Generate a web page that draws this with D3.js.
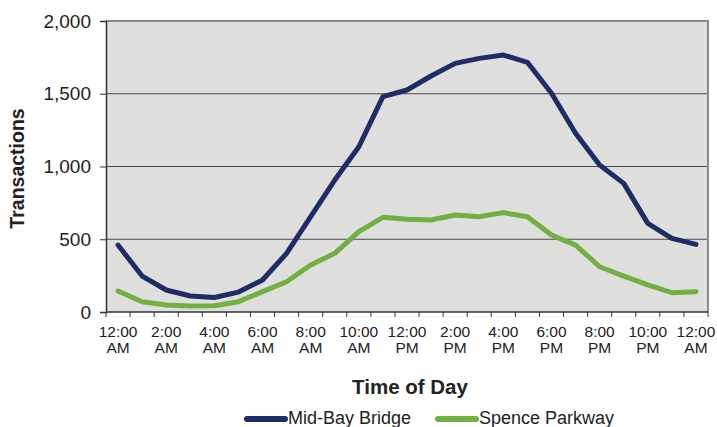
<html>
<head>
<script src="https://d3js.org/d3.v7.min.js"></script>
<style>
  body { margin: 0; background: white; }
  text { font-family: "Liberation Sans", Arial, sans-serif; fill: #222; }
</style>
</head>
<body>
<svg id="chart" width="717" height="427"></svg>
<script>
// hours of the day, 0 = midnight ... 24 = next midnight
const hours = d3.range(0, 25);
const tickLabels = [
  ["12:00", "AM"], ["2:00", "AM"], ["4:00", "AM"], ["6:00", "AM"], ["8:00", "AM"],
  ["10:00", "AM"], ["12:00", "PM"], ["2:00", "PM"], ["4:00", "PM"], ["6:00", "PM"],
  ["8:00", "PM"], ["10:00", "PM"], ["12:00", "AM"]
];
const midBay = [460, 247, 151, 110, 100, 137, 220, 403, 655, 907, 1136, 1480, 1526,
  1622, 1709, 1743, 1766, 1716, 1503, 1228, 1010, 884, 609, 506, 465];
const spence = [144, 71, 48, 41, 43, 71, 140, 208, 323, 403, 552, 651, 637,
  632, 667, 655, 683, 655, 529, 460, 311, 247, 186, 133, 140];
const yTicks = [0, 500, 1000, 1500, 2000];

const svg = d3.select("#chart");
const margin = { top: 21, right: 9, bottom: 115, left: 106 };
const width = 717 - margin.left - margin.right;
const height = 427 - margin.top - margin.bottom;
const g = svg.append("g").attr("transform", "translate(" + margin.left + "," + margin.top + ")");

const x = d3.scaleBand().domain(hours).range([0, width]);
const y = d3.scaleLinear().domain([0, 2000]).range([height, 0]);

// plot background
g.append("rect").attr("width", width).attr("height", height).attr("fill", "#dfe0de");

// gridlines
g.selectAll("line.grid").data(yTicks.slice(1, 4))
  .join("line")
  .attr("class", "grid")
  .attr("x1", 0).attr("x2", width)
  .attr("y1", d => y(d)).attr("y2", d => y(d))
  .attr("stroke", "#4a4a4a").attr("stroke-width", 1);

// top and right border
g.append("path")
  .attr("d", "M0," + y(2000) + "H" + width + "V" + height)
  .attr("fill", "none").attr("stroke", "#8a8a8a").attr("stroke-width", 2);

// y axis
const yAxis = g.append("g")
  .call(d3.axisLeft(y).tickValues(yTicks).tickFormat(d3.format(",")).tickSize(6).tickPadding(9));
yAxis.select(".domain").attr("stroke", "#333").attr("stroke-width", 1.5);
yAxis.selectAll(".tick line").attr("stroke", "#333");
yAxis.selectAll("text").style("font-size", "19px").attr("fill", "#222");

// x axis: ticks between categories
const xAxis = g.append("g").attr("transform", "translate(0," + height + ")");
xAxis.append("line").attr("x1", 0).attr("x2", width).attr("stroke", "#333").attr("stroke-width", 1.5);
xAxis.selectAll("line.tk").data(d3.range(0, 26))
  .join("line")
  .attr("class", "tk")
  .attr("x1", d => d * x.step()).attr("x2", d => d * x.step())
  .attr("y1", 0).attr("y2", 5)
  .attr("stroke", "#333");
const lab = xAxis.selectAll("text.lab").data(tickLabels)
  .join("text")
  .attr("class", "lab")
  .attr("x", (d, i) => x(i * 2) + x.bandwidth() / 2)
  .attr("text-anchor", "middle")
  .style("font-size", "15.5px");
lab.append("tspan").attr("x", (d, i) => x(i * 2) + x.bandwidth() / 2).attr("y", 24.5).text(d => d[0]);
lab.append("tspan").attr("x", (d, i) => x(i * 2) + x.bandwidth() / 2).attr("y", 41).text(d => d[1]);

// lines
const line = d3.line().x((d, i) => x(i) + x.bandwidth() / 2).y(d => y(d));
const series = [
  { name: "Mid-Bay Bridge", values: midBay, color: "#1f2c66" },
  { name: "Spence Parkway", values: spence, color: "#72b043" }
];
g.selectAll("path.series").data(series)
  .join("path")
  .attr("class", "series")
  .attr("d", d => line(d.values))
  .attr("fill", "none")
  .attr("stroke", d => d.color)
  .attr("stroke-width", 5)
  .attr("stroke-linejoin", "round")
  .attr("stroke-linecap", "round");

// axis titles
svg.append("text")
  .attr("transform", "translate(24," + (margin.top + height / 2 + 2) + ") rotate(-90)")
  .attr("text-anchor", "middle")
  .style("font-size", "19.5px").style("font-weight", "bold")
  .text("Transactions");
svg.append("text")
  .attr("x", 410).attr("y", 394)
  .attr("text-anchor", "middle")
  .style("font-size", "20.5px").style("font-weight", "bold")
  .text("Time of Day");

// legend
const legendX = [245, 436];
const leg = svg.selectAll("g.leg").data(series)
  .join("g")
  .attr("class", "leg")
  .attr("transform", (d, i) => "translate(" + legendX[i] + ",419)");
leg.append("line").attr("x1", 2).attr("x2", 40)
  .attr("stroke", d => d.color).attr("stroke-width", 6).attr("stroke-linecap", "round");
leg.append("text").attr("x", 43).attr("y", 5).style("font-size", "18px").text(d => d.name);
</script>
</body>
</html>
